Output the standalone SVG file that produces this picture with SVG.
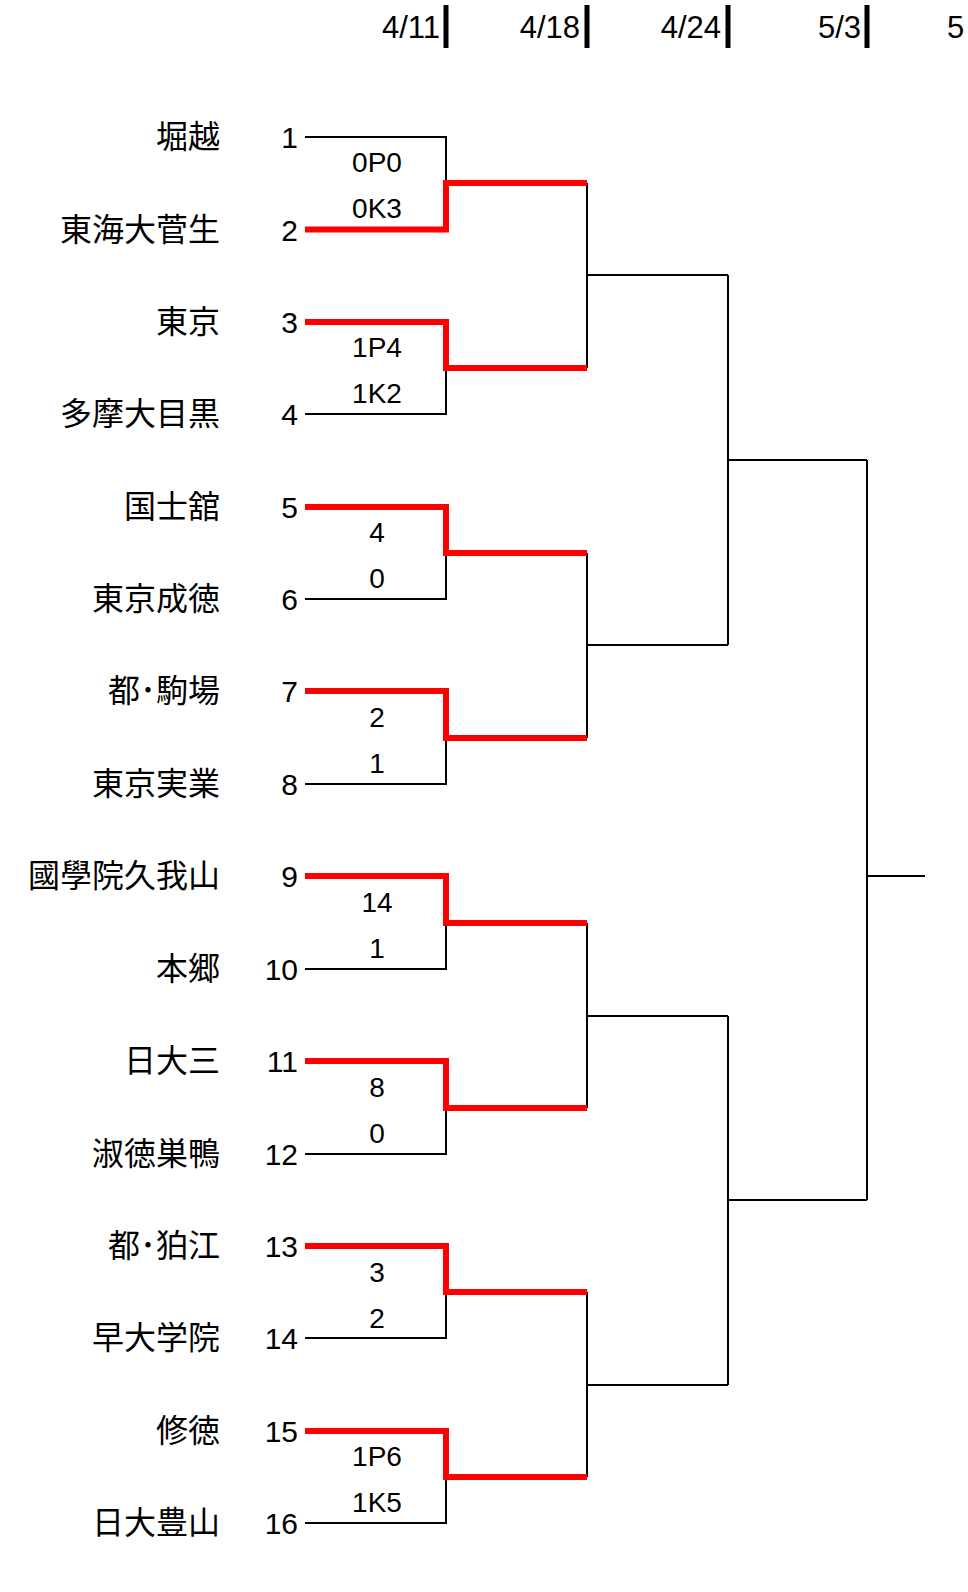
<svg xmlns="http://www.w3.org/2000/svg" width="968" height="1592" viewBox="0 0 968 1592">
<style>
.t{font-family:"Liberation Sans","Noto Sans CJK JP",sans-serif;fill:#000}
.nm{font-size:32px;text-anchor:end}
.no{font-size:30px;text-anchor:end}
.sc{font-size:28px;text-anchor:middle}
.dt{font-size:31px;text-anchor:end}
.b{fill:none;stroke:#000;stroke-width:2}
.r{fill:none;stroke:#f00;stroke-width:6}
.bar{stroke:#000;stroke-width:5}
</style>
<rect width="968" height="1592" fill="#fff"/>
<g id="header">
<text class="t dt" x="440" y="38">4/11</text><line class="bar" x1="446" y1="5" x2="446" y2="48"/>
<text class="t dt" x="580" y="38">4/18</text><line class="bar" x1="587" y1="5" x2="587" y2="48"/>
<text class="t dt" x="721" y="38">4/24</text><line class="bar" x1="728" y1="5" x2="728" y2="48"/>
<text class="t dt" x="861" y="38">5/3</text><line class="bar" x1="867" y1="5" x2="867" y2="48"/>
<text class="t" x="947" y="38" font-size="31">5</text>
</g>
<g id="teams">
<g id="t1"><text class="t nm" x="220" y="148">堀越</text><text class="t no" x="298" y="148">1</text></g>
<g id="t2"><text class="t nm" x="220" y="241">東海大菅生</text><text class="t no" x="298" y="241">2</text></g>
<g id="t3"><text class="t nm" x="220" y="333">東京</text><text class="t no" x="298" y="333">3</text></g>
<g id="t4"><text class="t nm" x="220" y="425">多摩大目黒</text><text class="t no" x="298" y="425">4</text></g>
<g id="t5"><text class="t nm" x="220" y="518">国士舘</text><text class="t no" x="298" y="518">5</text></g>
<g id="t6"><text class="t nm" x="220" y="610">東京成徳</text><text class="t no" x="298" y="610">6</text></g>
<g id="t7"><text class="t nm" x="220" y="702">都･駒場</text><text class="t no" x="298" y="702">7</text></g>
<g id="t8"><text class="t nm" x="220" y="795">東京実業</text><text class="t no" x="298" y="795">8</text></g>
<g id="t9"><text class="t nm" x="220" y="887">國學院久我山</text><text class="t no" x="298" y="887">9</text></g>
<g id="t10"><text class="t nm" x="220" y="980">本郷</text><text class="t no" x="298" y="980">10</text></g>
<g id="t11"><text class="t nm" x="220" y="1072">日大三</text><text class="t no" x="298" y="1072">11</text></g>
<g id="t12"><text class="t nm" x="220" y="1165">淑徳巣鴨</text><text class="t no" x="298" y="1165">12</text></g>
<g id="t13"><text class="t nm" x="220" y="1257">都･狛江</text><text class="t no" x="298" y="1257">13</text></g>
<g id="t14"><text class="t nm" x="220" y="1349">早大学院</text><text class="t no" x="298" y="1349">14</text></g>
<g id="t15"><text class="t nm" x="220" y="1442">修徳</text><text class="t no" x="298" y="1442">15</text></g>
<g id="t16"><text class="t nm" x="220" y="1534">日大豊山</text><text class="t no" x="298" y="1534">16</text></g>
</g>
<g id="scores">
<text class="t sc" x="377" y="172">0P0</text><text class="t sc" x="377" y="218">0K3</text>
<text class="t sc" x="377" y="357">1P4</text><text class="t sc" x="377" y="403">1K2</text>
<text class="t sc" x="377" y="542">4</text><text class="t sc" x="377" y="588">0</text>
<text class="t sc" x="377" y="727">2</text><text class="t sc" x="377" y="773">1</text>
<text class="t sc" x="377" y="912">14</text><text class="t sc" x="377" y="958">1</text>
<text class="t sc" x="377" y="1097">8</text><text class="t sc" x="377" y="1143">0</text>
<text class="t sc" x="377" y="1282">3</text><text class="t sc" x="377" y="1328">2</text>
<text class="t sc" x="377" y="1466">1P6</text><text class="t sc" x="377" y="1512">1K5</text>
</g>
<g id="connectors">
<path class="b" d="M305,137H446V183 M305,414H446V368 M305,599H446V553 M305,784H446V738 M305,969H446V923 M305,1154H446V1108 M305,1338H446V1292 M305,1523H446V1477"/>
<path class="b" d="M587,183V368 M587,553V738 M587,923V1108 M587,1292V1477 M587,275H728 M587,645H728 M587,1016H728 M587,1385H728 M728,275V645 M728,1016V1385 M728,460H867 M728,1200H867 M867,460V1200 M867,876H925"/>
<path class="r" d="M305,229.5H446V183H587 M305,322H446V368H587 M305,507H446V553H587 M305,691H446V738H587 M305,876H446V923H587 M305,1061H446V1108H587 M305,1246H446V1292H587 M305,1431H446V1477H587"/>
</g>
</svg>
